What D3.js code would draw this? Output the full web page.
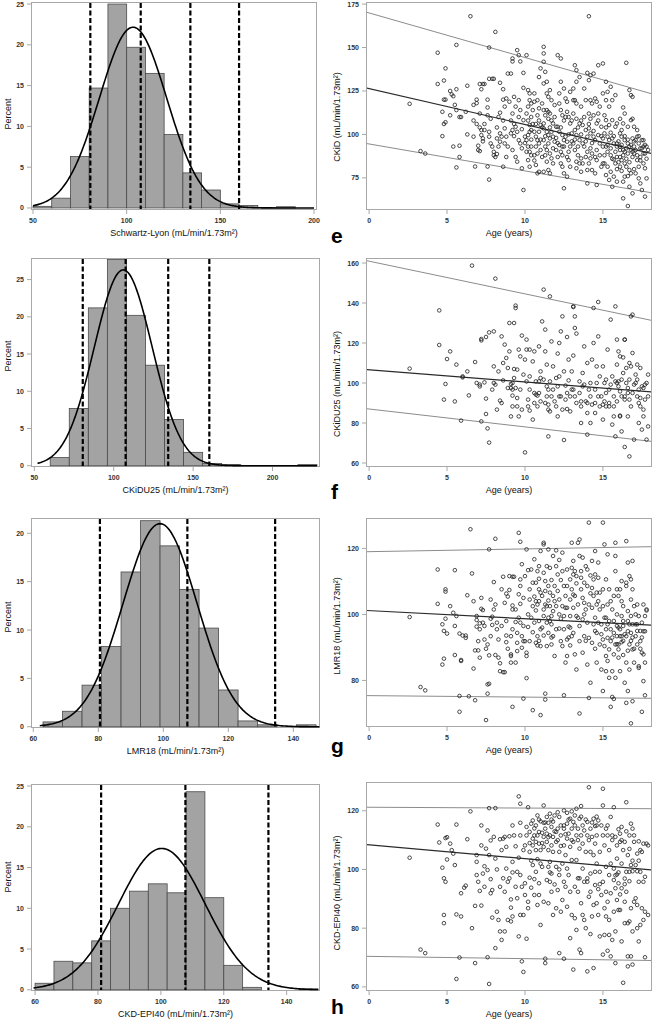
<!DOCTYPE html>
<html><head><meta charset="utf-8">
<script src="https://cdn.jsdelivr.net/npm/d3@7"></script>
<style>body{margin:0;background:#fff}svg{display:block}text{font-family:"Liberation Sans",Arial,sans-serif}</style>
</head><body><svg id="c" width="653" height="1020"></svg>
<script>
// ---------- Histogram data ----------
const slPercent = [0.2,1.2,6.3,14.7,25.0,19.7,16.5,9.0,4.3,2.2,0.5,0.3,0.05,0.15];
const slBinStart = 50, slBinWidth = 10;
const slRefLines = [80.6,107.5,134,160];
const slFit = [103.4,18.0];
const slTicks = [50,100,150,200];

const ckuPercent = [1.1,7.7,21.2,27.7,20.2,13.5,6.2,1.8,0.3,0.15,0,0,0,0.15];
const ckuBinStart = 60, ckuBinWidth = 12;
const ckuRefLines = [80.5,107.5,134.3,160.2];
const ckuFit = [106,18.2];
const ckuTicks = [50,100,150,200];

const lmrPercent = [0.5,1.6,4.3,8.3,16.0,21.3,18.7,14.2,10.2,3.8,0.6,0.2,0,0.2];
const lmrBinStart = 63, lmrBinWidth = 6;
const lmrRefLines = [80.5,107.4,134.4];
const lmrFit = [99,11.4];
const lmrTicks = [60,80,100,120,140];

const epiPercent = [0.8,3.5,3.3,6.0,10.0,12.1,13.0,11.9,24.3,11.3,3.0,0.3,0,0,0.1];
const epiBinStart = 60, epiBinWidth = 6;
const epiRefLines = [81,107.8,134.2];
const epiFit = [100.3,13.8];
const epiTicks = [60,80,100,120,140];

const percentTicks25 = [0,5,10,15,20,25];
const percentTicks20 = [0,5,10,15,20];
const ageTicks = [0,5,10,15];

// ---------- Scatter data: [age, eGFR] ----------
const ckidPoints = [
[2.6,117.6],[3.3,90.4],[3.6,89],
[4.4,147],[4.4,129],[4.8,131],[4.9,138],[4.7,99],[4.7,113],[4.8,120],[4.9,120],[4.8,106],[4.9,107],
[5.2,125],[5.3,123],[5.4,122],[5.6,126],[5.6,151.5],[5.5,117],[5.6,114],[5.2,111],[5.4,93],[5.8,93.5],[5.6,81],[5.8,110],[5.9,110],[5.8,87],
[6.3,128],[6.3,100],[6.2,113],[6.5,168],[6.7,98.7],[6.8,81.5],[6.7,117],[6.9,118],[6.9,120],[6.9,106],[6.7,108],[7.0,91],
[7.1,112],[7.1,129],[7.3,129],[7.4,129],[7.2,126],[7.1,104],[7.2,102.5],[7.2,99.6],[7.3,97.7],[7.0,93.5],[7.1,90.4],[7.6,81.5],[7.7,74],[7.7,150],[7.7,132],[7.9,132],[7.6,115.5],[7.6,111],[7.8,109],[7.4,102.5],[7.7,101.5],[7.7,98.7],[7.8,94.8],[7.9,93],[7.6,120],[7.4,106],[7.3,96],
[8.1,159],[8.0,132],[8.0,90],[8.0,88],[8.1,87],[8.2,88.7],[8.4,95.8],[8.5,98.7],[8.4,100.6],[8.3,93],[8.4,129.7],[8.6,126],[8.6,120],[8.7,116],[8.8,120.7],[8.6,81.4],[8.2,104],[8.3,110],[8.6,108],[8.7,103.5],[8.8,98.7],[8.9,93],[8.2,97.7],[8.8,87],[8.7,94.8],[8.4,112.5],
[9.0,118.8],[9.1,135],[8.9,135],[9.2,143.7],[9.2,142],[9.5,148.5],[9.6,145.6],[9.7,142],[9.9,135.4],[9.9,126.8],[9.9,68],[9.1,100.6],[9.2,102.5],[9.3,99],[9.4,104.4],[9.5,101.5],[9.6,96.7],[9.7,94.8],[9.8,92],[9.2,91],[9.4,87],[9.5,84.3],[9.8,80.5],[9.2,112],[9.4,116],[9.6,119.7],[9.7,114],[9.3,121.6],[9.9,108.2],[10.0,98.7],[9.1,108],
[10.1,145.6],[10.3,119.7],[10.4,117.8],[10.6,118.8],[10.8,119.7],[10.2,125.5],[10.3,123.6],[10.6,123.6],[10.9,133],[11.0,138],[10.1,112],[10.2,108],[10.3,105.4],[10.4,102.5],[10.6,101.5],[10.7,98.7],[10.8,96.7],[10.9,94.8],[10.1,96.7],[10.2,93],[10.3,90],[10.4,88],[10.6,85],[10.7,82.4],[10.8,77.6],[10.9,78.5],[10.1,90],[10.2,85.2],[10.3,81.4],[10.4,93],[10.7,93],[10.9,108],[11.0,105.4],[10.8,111],[10.5,114],[10.4,110],[10.7,106],[10.9,101.5],[10.3,101.5],[10.2,99.6],[10.8,89],[11.1,87],
[11.2,150.4],[11.2,146.6],[11.2,141.8],[11.3,136],[11.2,129.3],[11.4,130.3],[11.4,123.6],[11.5,121.6],[11.6,125.5],[11.7,119.7],[11.9,116.9],[11.1,117.8],[11.2,114],[11.3,111],[11.4,114],[11.5,109],[11.6,112],[11.7,108],[11.8,106.3],[12.0,104.4],[11.2,106.3],[11.2,103.5],[11.4,101.5],[11.5,99.6],[11.6,97.7],[11.7,101.5],[11.8,98.7],[11.9,95.8],[11.2,96.7],[11.3,93],[11.4,91],[11.5,94.8],[11.6,89],[11.7,86.2],[11.8,83.3],[11.4,84.3],[11.5,79.5],[11.2,78.5],[11.6,77.6],[12.0,91],[11.0,91],
[12.1,145.6],[12.3,143.7],[12.3,130.3],[12.2,123.6],[12.5,126.4],[12.6,120.7],[12.7,118.8],[12.9,124.5],[12.2,117.8],[12.3,114],[12.4,111],[12.5,108],[12.7,113],[12.8,110],[12.9,106.3],[12.1,104.4],[12.2,101.5],[12.4,99.6],[12.5,96.7],[12.6,98.7],[12.7,95.8],[12.9,93],[13.0,100.6],[12.2,93.9],[12.3,90],[12.4,88],[12.5,93],[12.7,87],[12.8,85.2],[12.9,81.4],[12.4,81.4],[12.5,77.6],[12.3,83.3],[12.5,69],[12.7,75.7],[12.1,87],
[13.2,139.8],[13.3,130.3],[13.3,137],[13.5,133],[13.1,126.4],[13.1,119.7],[13.2,119.7],[13.3,117.8],[13.6,116],[13.8,126.4],[13.9,119.7],[13.1,112],[13.3,109],[13.5,106.3],[13.6,108],[13.7,105.4],[13.9,102.5],[13.2,102.5],[13.3,99.6],[13.5,96.7],[13.7,94.8],[13.8,93],[14.0,98.7],[13.1,94.8],[13.2,91],[13.4,88],[13.6,86.2],[13.7,83.3],[13.5,83.3],[13.3,80.5],[13.6,78.5],[13.9,87],[13.3,84.3],[14.0,79.5],
[14.1,168],[14.0,135.4],[14.1,131.2],[14.2,134],[14.4,135],[14.7,139.8],[14.2,119.7],[14.3,117.8],[14.5,120.7],[14.6,118.8],[14.8,116],[15.0,123.6],[14.1,112],[14.2,109],[14.4,111],[14.6,106.3],[14.7,108],[14.9,104.4],[14.1,103.5],[14.2,100.6],[14.4,98.7],[14.5,96.7],[14.7,99.6],[14.8,94.8],[15.0,97.7],[14.2,92],[14.3,89],[14.5,87],[14.6,85.2],[14.8,88],[15.0,83.3],[14.1,83.3],[14.3,79.5],[14.5,77.6],[14.0,71.8],[14.6,70.9],[14.2,86.2],[14.9,81.4],
[15.0,140.8],[15.2,130.3],[15.3,124.5],[15.5,127.4],[15.2,119.7],[15.4,116],[15.6,119.7],[15.8,122.6],[15.1,111],[15.2,108.2],[15.4,105.4],[15.6,108.2],[15.8,104.4],[15.9,106.3],[15.1,100.6],[15.3,98.7],[15.4,96.7],[15.6,97.7],[15.7,94.8],[15.9,93],[15.2,93],[15.3,90],[15.5,88],[15.7,85.6],[15.8,83.3],[15.9,87],[15.1,83.3],[15.3,81.4],[15.5,78.5],[15.7,75.7],[15.9,72.8],[15.6,69.9],[15.2,76.6],[15.4,73.8],
[16.5,141.2],[16.3,115.5],[16.4,112],[16.1,109],[16.3,106.3],[16.6,104.4],[16.8,108.2],[16.9,109],[16.7,125.5],[16.8,122.6],[16.9,121.6],[16.1,100.6],[16.2,98.7],[16.4,96.7],[16.6,94.8],[16.7,93],[16.9,97.7],[16.1,93],[16.3,91],[16.4,90],[16.6,89],[16.8,91],[16.9,87],[16.1,87],[16.2,85.2],[16.4,83.3],[16.5,81.4],[16.7,79.5],[16.8,77.6],[16.1,81.4],[16.4,75.7],[16.3,72.8],[16.7,69.9],[16.9,66.1],[16.3,63.2],[16.6,58.8],[15.9,94.8],[16.2,102.5],
[17.0,93],[17.1,96.7],[17.2,98.7],[17.3,94.8],[17.4,92],[17.5,96.7],[17.6,93],[17.7,89],[17.8,93],[17.0,89],[17.2,85.2],[17.3,81.4],[17.4,87],[17.6,83.3],[17.7,80.5],[17.1,77.6],[17.3,74.7],[17.4,71.8],[17.5,68],[17.7,64.2],[17.0,104.4],[17.2,102.5],[17.6,96.7],[17.8,74.7],
[9.3,106],[9.6,110],[9.8,103],[10.0,95],[10.2,116],[10.4,97],[10.5,106],[10.6,88],[10.9,115],[11.0,97],[11.1,104],[11.3,99],[11.3,88],[11.5,113],[11.6,104],[11.8,92],[11.9,110],[12.0,98],[12.1,95],[12.3,104],[12.4,93],[12.6,110],[12.8,100],[12.8,90],[13.0,96],[13.0,108],[13.2,97],[13.4,104],[13.4,93],[13.6,100],[13.8,110],[13.9,96],[14.0,90],[14.1,106],[14.3,95],[14.4,102],[14.6,91],[14.7,112],[14.9,99],[15.0,93],[15.1,88],[15.2,104],[15.3,94],[15.5,92],[15.5,101],[15.6,86],[15.7,99],[15.8,90],[16.0,96],[16.0,84],[16.1,91],[16.2,94],[16.3,88],[16.4,99],[16.5,92],[16.5,86],[16.6,97],[16.7,84],[16.8,94],[16.9,90],[17.0,96],[17.1,91],[17.2,88],[17.3,99],[17.4,85],[17.5,92],[17.6,89],[17.7,94],[17.8,86],[17.9,91],[16.2,79],[15.9,80],[17.0,80],[16.6,76]
];
const ckidLines = [[169.9,123.7],[126.3,89.3],[94.5,66.6]]; // value at age 0 and age 18
const ckidTicks = [75,100,125,150,175];

const ckuPoints = [
[2.6,107.2],[4.5,136.3],[4.5,119],[4.8,91.7],[4.9,99.5],[5.0,112],[5.2,115.8],[5.5,90.8],[5.6,109.2],[5.9,81.2],[6.0,102.8],[6.0,103.3],[6.3,105.8],[6.4,93.8],[6.6,158.7],[6.8,110.5],[6.9,100],[7.2,122],[7.2,121.3],[7.1,98.3],[7.1,99.2],[7.2,80.8],[7.4,100.3],[7.5,123],[7.5,92.2],[7.5,84.5],[7.6,77.3],[7.7,70.2],[7.7,125.3],[8.0,125.8],[8.0,108.3],[8.1,152.2],[8.0,100],[7.9,96.7],[8.2,86.7],[8.1,99.2],[8.4,91.2],[8.5,90],[8.5,123.3],[8.6,110],[8.7,119.2],[8.8,112.5],[8.9,97.5],[9.0,115.8],[9.0,130],[9.1,99.5],[9.1,97.5],[9.2,100],[9.2,96.7],[9.1,83.3],[9.2,93.7],[9.3,130],[9.3,107],[9.3,102.5],[9.4,97.5],[9.4,138.7],[9.4,137.5],[9.5,88.3],[9.6,116.7],[9.7,113.3],[9.6,83.3],[9.7,96.7],[9.8,123.7],[9.9,104.2],[10.0,65.3],
[10.0,111.7],[10.1,121.7],[10.1,116.7],[10.2,91.7],[10.2,88.3],[10.3,86.2],[10.3,116.7],[10.3,96.7],[10.5,81.7],[10.5,110.8],[10.6,95],[10.6,115.8],[10.7,100.8],[10.7,94.2],[10.8,93.7],[10.9,95],[10.9,118.3],[11.0,105.8],[11.0,102.5],[11.0,90.8],[11.1,130.8],[11.2,146.7],[11.3,126.7],[11.3,115.8],[11.4,93.3],[11.4,98.3],[11.4,109.2],[11.5,89.2],[11.5,73.3],[11.5,86.7],[11.6,143.3],[11.6,100.8],[11.7,93.3],[11.7,120.8],[11.8,108.3],[11.9,90.8],[12.0,102.5],[12.1,114.7],[12.0,88.3],[12.1,83.3],[12.1,98.3],[12.2,93.3],[12.2,120],[12.3,125.8],[12.4,133.3],[12.4,86.7],[12.5,71.5],[12.5,105.8],[12.6,98.7],[12.7,123],[12.7,95],[12.7,87],[12.8,101.3],[12.9,85.8],[12.9,93.3],[13.0,105.8],[13.0,96.7],[13.1,113.7],[13.1,138.3],[13.1,138],[13.2,133.3],[13.2,127.5],[13.3,124.7],[13.3,90],[13.5,95],[13.6,88.3],[13.6,80],[13.7,105],[13.7,98.3],[13.8,118.3],[13.9,90.8],[14.0,85],[14.0,74.2],[14.0,90],[14.1,96.7],[14.2,80],[14.2,93.3],[14.3,111.7],[14.4,137.5],[14.4,120],[14.5,90],[14.5,96.7],[14.6,108.3],[14.6,100],[14.7,123.3],[14.7,140.5],[14.8,103.3],[14.9,93.3],[15.0,89.2],[15.0,81.7],[15.1,100],[15.1,90.8],[15.2,95],[15.2,101.7],[15.3,116.7],[15.4,90],[15.4,88.3],[15.5,99.2],[15.5,131.7],[15.6,79.2],[15.7,88.3],[15.7,93.3],[15.8,73.3],[15.8,100.8],[15.8,138.3],[15.9,121.7],[15.9,109.2],[15.9,100],[16.0,98.3],[16.0,115.8],[16.1,113.3],[16.1,83.7],[16.1,83.3],[16.2,93.3],[16.2,75.8],[16.3,112.8],[16.4,121.7],[16.4,93.3],[16.4,68],[16.4,121.7],[16.5,107.5],[16.6,97.5],[16.6,83.3],[16.7,63.3],[16.7,110],[16.8,133.3],[16.8,108.3],[16.9,134.2],[16.9,115],[17.0,71.7],[17.0,99.2],[17.1,104.2],[17.2,109.2],[17.2,93.3],[17.3,90],[17.3,80],[17.4,88.3],[17.4,107.5],[17.5,76.7],[17.6,83.3],[17.6,97.5],[17.7,91.7],[17.7,99.2],[17.8,71.7],[17.9,104.2],[17.9,78.3],
[8.3,105.8],[8.6,101.3],[8.9,107.5],[9.2,88.3],[9.5,92.5],[9.5,106.7],[9.8,86.7],[10.1,100.8],[10.3,103.3],[10.6,90],[10.8,88.3],[10.9,100.8],[11.2,101.7],[11.3,90],[11.5,96.7],[11.6,85.8],[11.8,96.7],[12.2,103.3],[12.3,93.3],[12.6,91.7],[12.8,111.7],[13.1,96.7],[13.2,93.3],[13.5,100.8],[13.6,90.8],[13.8,99.2],[14.0,110],[14.2,100],[14.3,89.2],[14.5,85],[14.7,93.3],[14.8,88.3],[15.0,108.3],[15.2,88.3],[15.4,96.7],[15.6,103.3],[15.7,83.3],[15.9,90.8],[16.0,100.8],[16.1,95.8],[16.2,101.7],[16.3,105],[16.4,91.7],[16.5,100],[16.6,95],[16.7,101.7],[16.7,91.7],[16.8,88.3],[16.9,95],[17.1,100],[17.2,101.7],[17.3,96.7],[17.4,92.5],[17.5,98.3],[17.6,86.7],[17.8,100],[17.9,93.3]
];
const ckuLines = [[160.9,131.5],[106.6,95.6],[87.0,70.9]];
const ckuYTicks = [60,80,100,120,140,160];

const lmrPoints = [
[2.6,99.2],[3.3,78],[3.6,77],[4.4,113.6],[4.4,103.2],[4.7,97],[4.7,84.8],[4.8,95],[4.8,86.6],[4.9,106.9],[4.9,107.6],[4.9,98.7],[5.0,94.2],
[5.2,102.5],[5.4,100.5],[5.5,87.7],[5.5,113.4],[5.5,96.5],[5.6,99.5],[5.8,94.2],[5.9,86.2],[5.9,85.9],[5.8,75.3],[6.0,93.6],[5.8,70.5],
[6.2,92.9],[6.2,93.6],[6.3,105.8],[6.5,125.8],[6.6,112.4],[6.7,83.6],[6.7,104],[6.8,89.1],[6.9,98.3],[6.9,99.5],[6.9,96.3],[7.0,91.9],[7.1,95.5],[7.1,97.3],[7.2,101.7],[7.1,86.9],[7.0,89.1],[6.8,74],[6.4,75.2],
[7.2,105],[7.3,97.5],[7.3,101.3],[7.4,96.5],[7.4,92.4],[7.5,89.6],[7.6,90.9],[7.7,87.6],[7.7,119.7],[7.8,93.4],[7.8,98.7],[7.8,104.5],[7.9,96.8],[7.9,99.3],[8.0,101.5],[7.6,78.8],[7.7,79],[8.1,122.9],[8.1,103],[8.0,109.8],[8.1,87.7],[7.6,76],[7.5,68],
[8.2,97.5],[8.2,95.5],[8.3,92.4],[8.3,86.9],[8.4,82.8],[8.4,85.2],[8.5,107.6],[8.5,96.5],[8.6,82.5],[8.6,111.4],[8.7,82.5],[8.7,103.5],[8.8,106.3],[8.8,98],[8.8,93.6],[8.8,91.6],[8.9,89.6],[8.9,105.4],[9.0,111.6],[9.0,107.4],[9.1,87.9],[9.1,87.4],[9.1,85.4],[9.1,93.4],[9.2,101.5],[9.2,95.5],[9.2,102.7],[9.2,111.4],[9.2,72],
[9.3,111.4],[9.4,101.5],[9.4,85.4],[9.4,97.7],[9.5,94.4],[9.5,91.4],[9.5,88.9],[9.6,124.7],[9.7,122],[9.6,106.1],[9.7,110.6],[9.7,97.5],[9.7,103.2],[9.7,108.6],[9.8,115.2],[9.8,93.4],[9.8,89.9],[9.9,96.5],[9.9,91.9],[9.9,105],[10.0,111.6],[10.0,91.9],[10.1,88.4],[10.1,119.7],[10.1,87.4],[10.2,113.4],[10.1,80.7],[9.9,74.5],
[10.2,100],[10.2,96.2],[10.3,104.5],[10.3,107.6],[10.3,91.9],[10.4,113.6],[10.5,102.5],[10.5,94.6],[10.5,109.6],[10.6,97.5],[10.6,116.7],[10.6,105.4],[10.7,101.2],[10.7,91.4],[10.7,109.6],[10.8,113.1],[10.8,103],[10.8,93.4],[10.8,90.6],[10.9,114.6],[10.9,107.6],[10.9,98],[10.9,110.8],[10.9,104],[11.0,119.2],[11.0,95.5],[11.0,90.4],[11.0,106.6],[10.5,71],[11.0,69.5],
[11.1,105.6],[11.2,121.2],[11.2,121.7],[11.2,112.6],[11.2,101.5],[11.2,99.5],[11.2,93.6],[11.3,110.1],[11.3,107.1],[11.4,114.6],[11.4,102.5],[11.4,97.5],[11.4,90.4],[11.5,108.6],[11.5,104.2],[11.5,119.7],[11.5,99],[11.5,94.4],[11.6,106.6],[11.6,102.5],[11.6,114.1],[11.7,99.5],[11.7,90.9],[11.7,110.4],[11.7,97],[11.8,105.6],[11.8,93.4],[11.8,117.7],[11.8,101],[11.9,108.6],[11.9,87.4],[12.0,102.5],[12.0,95.5],[12.0,119.4],[12.0,114.6],[11.3,76],[11.3,74.2],
[12.1,107.1],[12.1,112.1],[12.2,95.7],[12.2,104.5],[12.2,116.5],[12.3,98.7],[12.3,91.9],[12.3,110.4],[12.4,113.1],[12.4,102.5],[12.4,118.7],[12.4,90.4],[12.5,108.6],[12.5,95.5],[12.5,99.5],[12.6,105.6],[12.6,85.4],[12.7,113.6],[12.7,92.4],[12.7,102],[12.7,108.6],[12.7,87.4],[12.8,96.3],[12.9,104.5],[12.9,90.6],[12.9,110.6],[12.9,99.5],[13.0,114.1],[13.0,93.4],[13.0,107.6],[13.0,121.7],[12.5,75.5],
[13.1,116.2],[13.1,102],[13.1,112.1],[13.1,94.4],[13.2,113.1],[13.2,105.6],[13.2,87.9],[13.3,111.6],[13.3,99.5],[13.3,109.4],[13.3,83.3],[13.4,103],[13.4,121.7],[13.5,122.7],[13.5,117.7],[13.5,91.9],[13.5,96.5],[13.6,111.1],[13.6,107.6],[13.6,113.1],[13.7,105],[13.7,98.5],[13.7,117.2],[13.7,88.4],[13.8,103.5],[13.8,93.4],[13.8,109.6],[13.9,114.6],[13.9,101.5],[14.0,97.5],[14.0,84.8],[14.0,108.6],[13.5,70],
[14.0,113.6],[14.1,127.8],[14.1,92.9],[14.2,79.3],[14.2,106.4],[14.2,111.8],[14.3,102],[14.3,116.2],[14.3,91.4],[14.4,110.6],[14.4,97],[14.4,105.6],[14.5,89.6],[14.5,112.1],[14.5,99],[14.5,119.2],[14.6,106.6],[14.6,94.4],[14.6,103],[14.6,85.4],[14.7,111.1],[14.7,97.5],[14.7,115.7],[14.8,90.9],[14.8,106.6],[14.8,101.5],[14.9,83.3],[14.9,97],[15.0,127.8],[15.0,107.6],[15.0,92.4],[14.1,74.7],[15.0,76.8],
[15.0,102.5],[15.1,121.2],[15.1,99],[15.1,90.4],[15.2,87.4],[15.2,110.6],[15.2,95.5],[15.2,82.8],[15.3,118.2],[15.3,103],[15.3,92.9],[15.3,85.9],[15.4,107.6],[15.4,80.8],[15.4,98],[15.4,89.4],[15.5,95.5],[15.5,91.9],[15.6,82.8],[15.6,101.5],[15.7,105.6],[15.7,94.4],[15.7,87.9],[15.8,117.7],[15.8,90.9],[15.8,121.7],[15.8,113.1],[15.8,80.8],[15.9,107.6],[15.9,96.5],[15.9,93.4],[15.9,100],[16.0,90.9],[16.0,86.9],[15.6,75],[15.7,74.4],[15.5,72],
[16.0,105.6],[16.0,89.4],[16.1,95.5],[16.1,107.6],[16.1,93.4],[16.1,82.8],[16.2,99.5],[16.2,110.1],[16.2,93.4],[16.2,91.6],[16.3,96.5],[16.3,87.7],[16.3,98],[16.3,102.5],[16.4,79.3],[16.5,122.2],[16.5,109.6],[16.5,93.4],[16.5,108.6],[16.5,85.4],[16.6,94.9],[16.6,76.8],[16.6,115.7],[16.6,101],[16.7,111.6],[16.7,90.9],[16.7,97],[16.7,83.3],[16.8,104.5],[16.8,99.5],[16.8,94.4],[16.8,110.6],[16.9,116.2],[16.9,107.6],[16.9,89.4],[16.9,97],[17.0,89.6],[16.5,73.2],[16.9,73.7],[16.8,67],
[17.0,102.5],[17.0,85.4],[17.1,97],[17.1,93.4],[17.2,103],[17.2,90.9],[17.2,97],[17.3,83.8],[17.3,84.3],[17.3,99.5],[17.4,89.6],[17.4,91.9],[17.5,97.5],[17.5,88.4],[17.6,94.9],[17.6,79.8],[17.6,103],[17.6,87.9],[17.7,99.5],[17.7,94.9],[17.7,85.4],[17.8,101.5],[17.8,101.2],[17.7,75.5],[17.5,70.5],
[10.4,99],[10.7,104],[11.1,96],[11.3,103],[11.6,98],[11.9,104],[12.2,100],[12.6,102],[12.9,96],[13.1,106],[13.4,99],[13.8,100],[14.1,103],[14.3,108],[14.7,104],[14.9,94],[15.2,99],[15.5,104],[15.7,98],[16.0,96],[16.2,104],[16.4,94],[16.6,98],[16.9,93],[17.1,100],[17.4,95],[15.9,91],[16.3,92],[16.6,89],[16.8,92],[17.2,95],[17.5,93],[15.6,93],[15.3,97],[14.5,95],[13.9,92],[12.8,93],[11.7,93],[10.9,92],[9.6,99]
];
const lmrLines = [[119.0,120.5],[101.15,96.75],[75.4,74.6]];
const lmrYTicks = [80,100,120];

const epiPoints = [
[2.6,104],[3.3,72.7],[3.6,71.5],[4.4,115.3],[4.5,109.2],[4.7,100.6],[4.8,97],[4.9,95.8],[4.8,81.7],[4.8,84.5],[4.9,110.7],[5.0,111],[5.0,103.4],[5.2,108.8],[5.3,106.6],[5.4,105.4],[5.5,101.5],[5.6,115.3],[5.6,84.7],[5.6,62.7],[5.8,70],[5.9,91.9],[5.9,84],[6.1,93.8],[6.2,94.5],[6.3,110.3],[6.5,119.8],[6.6,80],[6.8,68.1],[6.8,87.6],[6.9,98.1],[6.9,104.9],[6.9,102.6],[7.0,95.8],[7.1,92.7],[7.2,108.2],[7.2,87.7],[7.2,115],[7.3,98.6],[7.4,101.1],[7.4,94.1],[7.5,107.1],[7.6,113.3],[7.6,99.8],[7.6,70.1],[7.7,61],[7.7,120.9],[7.7,104.9],[7.8,109.9],[7.8,91.9],[7.8,96.7],[7.9,83.6],[7.9,93],[8.0,111.1],[8.1,120.9],[8.1,103.7],[8.1,73.2],[8.2,100],[8.2,85.6],[8.3,82.8],[8.4,94.1],[8.4,110.3],[8.4,78.9],[8.5,76],[8.5,106.6],[8.6,110.5],[8.6,97],[8.7,78.9],[8.7,92.4],[8.7,111.1],[8.8,107.7],[8.8,100.3],[8.9,82.8],[8.9,95.8],[9.0,111.3],[9.1,87],[9.1,82.3],[9.1,89.8],[9.2,115],[9.2,99],[9.2,84],[9.2,102.6],[9.3,111.6],[9.4,107.9],[9.4,94.1],[9.5,90.2],[9.5,99.2],[9.6,124.9],[9.6,77.2],[9.7,84.5],[9.7,111.6],[9.7,115.9],[9.7,122.4],[9.7,98.1],[9.8,94.1],[9.8,68.7],[9.9,84.5],[9.9,106.6],[9.9,65.1],[10.0,91.3],[10.0,108.2],[10.0,95.3],[10.1,111.6],[10.1,76.4],[10.1,114.5],[10.2,89],[10.2,121.2],[10.2,86.8],[10.3,106],[10.3,112.8],[10.3,97.2],[10.4,115.6],[10.4,93.8],[10.5,110.5],[10.5,101.5],[10.5,116.7],[10.5,108.2],[10.6,96.7],[10.6,111.6],[10.6,91.3],[10.7,115],[10.7,106.6],[10.7,109.4],[10.7,99.2],[10.8,111.6],[10.8,87.9],[10.8,118.4],[10.8,103.5],[10.9,108.8],[10.9,95.3],[10.9,112.8],[10.9,91.3],[11.0,116.4],[11.0,106.6],[11.0,102],[11.0,81.1],[11.1,100.9],[11.1,112.5],
[11.2,121.8],[11.2,115.9],[11.2,111.1],[11.2,107.7],[11.2,89],[11.3,113.9],[11.3,69.6],[11.3,68.1],[11.4,117.9],[11.4,96.4],[11.4,112.2],[11.4,109.4],[11.5,115.9],[11.5,100.9],[11.5,106.6],[11.5,88.5],[11.6,111.6],[11.6,95.8],[11.6,119],[11.6,102.6],[11.7,108.2],[11.7,92.4],[11.7,114.5],[11.7,98.6],[11.8,111.1],[11.8,84.5],[11.8,116.3],[11.8,106],[11.9,118.4],[11.9,94.9],[12.0,112.8],[12.0,86.8],[12.0,109.4],[12.0,100.9],[12.1,119.5],[12.1,93],[12.1,113.9],
[12.2,106],[12.2,71.5],[12.2,117.9],[12.2,98.1],[12.3,111.6],[12.3,85.6],[12.3,115],[12.4,102],[12.4,89.6],[12.5,120.1],[12.5,108.2],[12.5,95.8],[12.5,69.6],[12.5,113.9],[12.6,104.9],[12.6,94.1],[12.7,119.3],[12.7,110.5],[12.7,100.3],[12.7,115.6],[12.7,87.3],[12.8,112.2],[12.8,98.1],[12.9,117.3],[12.9,76.6],[12.9,107.7],[12.9,92.4],[13.0,119.8],[13.0,103.2],[13.0,113.9],[13.0,84.5],[13.1,65.9],
[13.1,116.2],[13.1,109.4],[13.2,94.1],[13.2,118.4],[13.2,83.4],[13.3,111.6],[13.3,103.2],[13.3,120.7],[13.3,79.4],[13.4,113.9],[13.4,92.4],[13.5,117.3],[13.5,107.1],[13.5,97],[13.5,72.7],[13.6,121.6],[13.6,111.6],[13.6,88.5],[13.6,71.5],[13.7,115],[13.7,100.3],[13.7,84.5],[13.7,108.8],[13.8,113.3],[13.8,82.8],[13.8,95.8],[13.9,80],[13.9,106],[14.0,65.3],[14.0,111.6],[14.0,95.8],
[14.0,116.2],[14.0,97],[14.1,128],[14.1,90.7],[14.2,106],[14.2,78],[14.2,113.9],[14.2,92.4],[14.2,98.6],[14.3,111.1],[14.3,84],[14.4,117.3],[14.4,87.9],[14.4,66.4],[14.4,104.9],[14.5,114.8],[14.5,94.7],[14.5,108.8],[14.5,99.2],[14.6,115],[14.6,88.5],[14.6,111.6],[14.6,102],[14.7,93.3],[14.7,116.7],[14.7,84.5],[14.8,106],[14.8,77.2],[14.8,99.2],[14.9,91.3],[15.0,127.5],[15.0,71],[15.0,111.6],
[15.0,121.8],[15.0,95.8],[15.1,108.2],[15.1,86.8],[15.1,77.7],[15.2,100.9],[15.2,113.9],[15.2,92.4],[15.2,84],[15.3,111.6],[15.3,89],[15.3,72.3],[15.4,98.1],[15.4,106.6],[15.4,82.8],[15.4,77.7],[15.5,117.9],[15.5,102],[15.5,91.9],[15.5,70.4],[15.6,76],[15.6,111.6],[15.7,96.4],[15.7,85.6],[15.7,121.2],[15.7,100.3],[15.8,78.9],[15.8,68.1],[15.8,111.1],[15.8,93.6],[15.9,108.2],[15.9,89.6],[15.9,103.7],[15.9,98.3],[16.0,113.7],[16.0,86.2],
[16.0,99],[16.0,95.3],[16.1,109.4],[16.1,91.5],[16.1,112.2],[16.1,86.2],[16.2,93.6],[16.2,102],[16.2,114.5],[16.2,75.5],[16.3,61.4],[16.3,106.6],[16.4,96.9],[16.4,89],[16.4,109.4],[16.4,81.7],[16.5,113],[16.5,99.2],[16.5,122.9],[16.5,92.4],[16.6,104.9],[16.6,70.4],[16.6,81.7],[16.6,67],[16.7,96],[16.7,111.6],[16.7,99.2],[16.7,82.3],[16.8,115.6],[16.8,101.5],[16.8,86.8],[16.8,70.4],[16.9,113.9],[16.9,78.9],[16.9,99.4],[16.9,67.6],[17.0,111.6],
[17.0,109.4],[17.0,89],[17.1,101.5],[17.1,90.2],[17.2,105.4],[17.2,80],[17.2,99.4],[17.2,87.9],[17.3,109.6],[17.3,95.8],[17.3,75.5],[17.4,81.1],[17.4,106.6],[17.4,99.2],[17.5,86.8],[17.5,106],[17.6,95.8],[17.6,108.8],[17.6,82.8],[17.7,97.5],[17.7,85.6],[17.7,70.1],[17.8,108.8],[17.9,84.5],[17.9,108.2],
[10.3,109],[10.6,114],[10.9,117],[11.1,109],[11.3,116],[11.5,111],[11.7,117],[11.9,113],[12.1,110],[12.3,108],[12.5,115],[12.6,112],[12.8,117],[13.0,110],[13.2,115],[13.4,110],[13.6,118],[13.9,117],[14.1,110],[14.3,116],[14.6,118],[14.9,115],[15.3,115],[15.6,110],[16.2,110],[16.7,107],[16.9,103],[17.3,103],[15.8,98],[16.4,95],[12.2,100],[11.6,99],[10.4,103],[9.6,104],[9.0,97],[13.4,97],[14.8,95]
];
const epiLines = [[121.2,120.7],[108.4,99.9],[70.4,69.0]];
const epiYTicks = [60,80,100,120];

// ---------- drawing ----------
const svg = d3.select("#c");
const FRAME = "#a8a8a8", TXT = "#333";

function frameBox(f){
  svg.append("rect").attr("x",f.l+0.5).attr("y",f.t+0.5)
    .attr("width",f.r-f.l-1).attr("height",f.b-f.t-1)
    .attr("fill","none").attr("stroke",FRAME).attr("stroke-width",1);
}
function axes(f,x,y,xt,yt,yLab,yLabY,xLab,ylabX){
  const ga = svg.append("g");
  xt.forEach(v=>{
    const px = x(v);
    ga.append("line").attr("x1",px).attr("x2",px).attr("y1",f.b).attr("y2",f.b+4).attr("stroke",FRAME);
    ga.append("text").attr("x",px).attr("y",f.b+12.5).attr("text-anchor","middle")
      .attr("font-size",7).attr("font-weight","bold").attr("fill",TXT).text(v);
  });
  yt.forEach(v=>{
    const py = y(v);
    ga.append("line").attr("x1",f.l-4).attr("x2",f.l).attr("y1",py).attr("y2",py).attr("stroke",FRAME);
    ga.append("text").attr("x",f.l-7).attr("y",py+2.5).attr("text-anchor","end")
      .attr("font-size",7).attr("font-weight","bold").attr("fill",TXT).text(v);
  });
  ga.append("text").attr("transform",`translate(${ylabX},${yLabY}) rotate(-90)`)
    .attr("text-anchor","middle").attr("font-size",9).attr("fill","#111").text(yLab);
  ga.append("text").attr("x",(f.l+f.r)/2).attr("y",f.b+26).attr("text-anchor","middle")
    .attr("font-size",9).attr("fill","#111").text(xLab);
}

function histogram(cfg){
  const f = cfg.frame;
  const x = d3.scaleLinear().domain(cfg.xd).range([f.l,f.r]);
  const y = d3.scaleLinear().domain(cfg.yd).range([f.b,f.t]);
  frameBox(f);
  const g = svg.append("g");
  g.selectAll("rect.bar").data(cfg.pct).enter().append("rect")
    .attr("x",(d,i)=>x(cfg.start+i*cfg.width))
    .attr("width",(d,i)=>x(cfg.start+(i+1)*cfg.width)-x(cfg.start+i*cfg.width))
    .attr("y",d=>y(d)).attr("height",d=>Math.max(0,y(0)-y(d)))
    .attr("fill","#a3a3a3").attr("stroke","#4a4a4a").attr("stroke-width",0.8);
  const [mu,sd] = cfg.fit;
  const xs = d3.range(cfg.curve[0],cfg.curve[1]+0.01,0.5);
  const dens = v => 100*cfg.width*Math.exp(-0.5*((v-mu)/sd)**2)/(sd*Math.sqrt(2*Math.PI));
  g.selectAll("line.ref").data(cfg.refs).enter().append("line")
    .attr("x1",d=>x(d)).attr("x2",d=>x(d)).attr("y1",f.t+1).attr("y2",f.b-1)
    .attr("stroke","#000").attr("stroke-width",2.2).attr("stroke-dasharray","5,2.5");
  g.append("path").datum(xs).attr("fill","none").attr("stroke","#000").attr("stroke-width",1.6)
    .attr("d",d3.line().x(v=>x(v)).y(v=>y(dens(v))));
  axes(f,x,y,cfg.xt,cfg.yt,"Percent",cfg.ylabY,cfg.xLab,11);
}

function scatter(cfg){
  const f = cfg.frame;
  const x = d3.scaleLinear().domain([-0.2,18.15]).range([f.l,f.r]);
  const y = d3.scaleLinear().domain(cfg.yd).range([f.b,f.t]);
  frameBox(f);
  const g = svg.append("g");
  const clipId = "clip"+cfg.id;
  svg.append("clipPath").attr("id",clipId).append("rect")
    .attr("x",f.l+1).attr("y",f.t+1).attr("width",f.r-f.l-2).attr("height",f.b-f.t-2);
  const lineAt = (ln,a)=> ln[0]+(ln[1]-ln[0])*a/18;
  const cols = ["#8c8c8c","#2a2a2a","#8c8c8c"];
  cfg.lines.forEach((ln,i)=>{
    g.append("line").attr("clip-path",`url(#${clipId})`)
      .attr("x1",x(-0.2)).attr("y1",y(lineAt(ln,-0.2)))
      .attr("x2",x(18.15)).attr("y2",y(lineAt(ln,18.15)))
      .attr("stroke",cols[i]).attr("stroke-width",i===1?1.2:1);
  });
  g.selectAll("circle").data(cfg.pts).enter().append("circle")
    .attr("cx",d=>x(d[0])).attr("cy",d=>y(d[1])).attr("r",1.8)
    .attr("fill","none").attr("stroke","#1e1e1e").attr("stroke-width",0.8);
  axes(f,x,y,ageTicks,cfg.yt,cfg.yLab,cfg.ylabY,"Age (years)",340);
  svg.append("text").attr("x",331).attr("y",cfg.letterY).attr("font-size",21)
    .attr("font-weight","bold").attr("fill","#000").text(cfg.letter);
}

histogram({frame:{l:31,t:2,r:317,b:210},xd:[48.93,201.6],yd:[-0.25,25.25],pct:slPercent,start:slBinStart,width:slBinWidth,
  refs:slRefLines,fit:slFit,curve:[50,200],xt:slTicks,yt:percentTicks25,xLab:"Schwartz-Lyon (mL/min/1.73m²)",ylabY:114});
histogram({frame:{l:31,t:258,r:320,b:467},xd:[47.9,229.9],yd:[-0.17,27.9],pct:ckuPercent,start:ckuBinStart,width:ckuBinWidth,
  refs:ckuRefLines,fit:ckuFit,curve:[52,228],xt:ckuTicks,yt:percentTicks25,xLab:"CKiDU25 (mL/min/1.73m²)",ylabY:356});
histogram({frame:{l:31,t:518,r:320,b:728},xd:[59.3,148.2],yd:[-0.13,21.58],pct:lmrPercent,start:lmrBinStart,width:lmrBinWidth,
  refs:lmrRefLines,fit:lmrFit,curve:[62,148],xt:lmrTicks,yt:percentTicks20,xLab:"LMR18 (mL/min/1.73m²)",ylabY:617});
histogram({frame:{l:31,t:784,r:320,b:991},xd:[58.7,150.6],yd:[-0.15,25.25],pct:epiPercent,start:epiBinStart,width:epiBinWidth,
  refs:epiRefLines,fit:epiFit,curve:[59.5,150],xt:epiTicks,yt:percentTicks25,xLab:"CKD-EPI40 (mL/min/1.73m²)",ylabY:877});

scatter({id:1,frame:{l:366,t:2,r:652,b:210},yd:[56.5,176.2],pts:ckidPoints,lines:ckidLines,yt:ckidTicks,
  yLab:"CKiD (mL/min/1.73m²)",ylabY:117,letter:"e",letterY:243});
scatter({id:2,frame:{l:366,t:258,r:652,b:467},yd:[58,162.5],pts:ckuPoints,lines:ckuLines,yt:ckuYTicks,
  yLab:"CKiDU25 (mL/min/1.73m²)",ylabY:384,letter:"f",letterY:499});
scatter({id:3,frame:{l:366,t:518,r:652,b:727},yd:[65.9,129.2],pts:lmrPoints,lines:lmrLines,yt:lmrYTicks,
  yLab:"LMR18 (mL/min/1.73m²)",ylabY:626,letter:"g",letterY:753});
scatter({id:4,frame:{l:366,t:782,r:652,b:991},yd:[58.6,129.8],pts:epiPoints,lines:epiLines,yt:epiYTicks,
  yLab:"CKD-EPI40 (mL/min/1.73m²)",ylabY:893,letter:"h",letterY:1014});
</script></body></html>
